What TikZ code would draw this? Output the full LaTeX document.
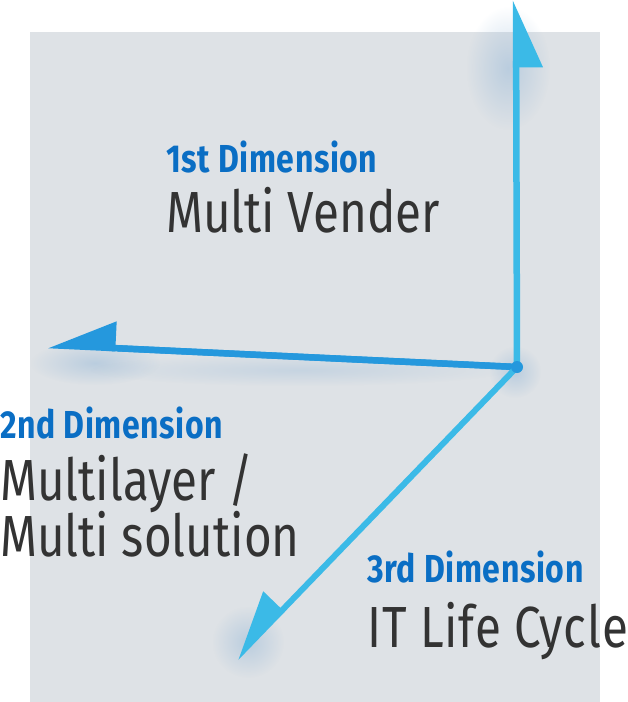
\documentclass[tikz,border=0pt]{standalone}
\usepackage{fontspec}
\setmainfont[FakeStretch=0.82, BoldFeatures={LetterSpace=1.5}]{Fira Sans}
\usetikzlibrary{positioning, arrows.meta, calc, fadings}

\definecolor{bggray}{HTML}{DEE2E6}
\definecolor{axiscyan}{HTML}{3BBAE7}
\definecolor{axisblue}{HTML}{2598DD}
\definecolor{deepblue}{HTML}{0B5FB4}
\definecolor{dimblue}{HTML}{0A6EC4}
\definecolor{textdark}{HTML}{333333}
\definecolor{glowblue}{HTML}{8FB4D6}

\tikzfading[name=glowfade, inner color=transparent!0, outer color=transparent!100]

\begin{document}
\begin{tikzpicture}[
    x=1pt, y=-1pt,           % 座標はピクセル単位
    >={Triangle[harpoon, swap, length=60pt, width=52pt]},
    axis/.style={->, line width=6.5pt, draw=axiscyan},
    dimlabel/.style={font=\fontsize{39}{40}\selectfont\bfseries, text=dimblue, inner sep=0pt, anchor=base west},
    maintext/.style={font=\fontsize{58}{60}\selectfont, text=textdark, inner sep=0pt, anchor=base west},
    glow/.style={fill=glowblue, path fading=glowfade, opacity=0.45}
]

    % --- 背景 ---
    \useasboundingbox (0,0) rectangle (627,702);
    \fill [bggray] (30,32) rectangle (600,702);

    % --- 原点と矢印の先 ---
    \coordinate (o) at (517,367);
    \coordinate (up) at (516,0);
    \coordinate (left) at (48,345);
    \coordinate (down) at (236,658);

    % --- 影 ---
    \fill [glow] (508,68) ellipse (42 and 62);
    \fill [glow] (515,372) circle (26);
    \fill [glow] (95,363) ellipse (65 and 22);
    \fill [glow, opacity=0.3] (300,370) ellipse (210 and 16);
    \fill [glow] (248,642) circle (36);

    % --- 3本の軸 ---
    \draw [axis] (o) -- (up);
    \draw [axis, draw=axisblue] (o) -- (left);
    \shade [left color=axisblue, middle color=deepblue, right color=axisblue]
        ($(left)!70pt!(o)+(0,-3.2)$) -- ($(o)!6pt!(left)+(0,-3.2)$)
        -- ($(o)!6pt!(left)+(0,3.2)$) -- ($(left)!70pt!(o)+(0,3.2)$) -- cycle;
    \draw [axis, line width=6pt] (o) -- (down);
    \fill [axisblue] (o) circle (6);

    % --- 1st ---
    \node [dimlabel] (d1) at (166,172) {1st Dimension};
    \node [maintext] (t1) at (166,232) {Multi Vender};

    % --- 2nd ---
    \node [dimlabel] (d2) at (0,438) {2nd Dimension};
    \node [maintext] (t2a) at (0,500) {Multilayer /};
    \node [maintext] (t2b) at (0,556) {Multi solution};

    % --- 3rd ---
    \node [dimlabel] (d3) at (367,582) {3rd Dimension};
    \node [maintext, font=\fontsize{58}{60}\addfontfeature{LetterSpace=1.5}] (t3) at (367,647) {IT Life Cycle};

\end{tikzpicture}
\end{document}
